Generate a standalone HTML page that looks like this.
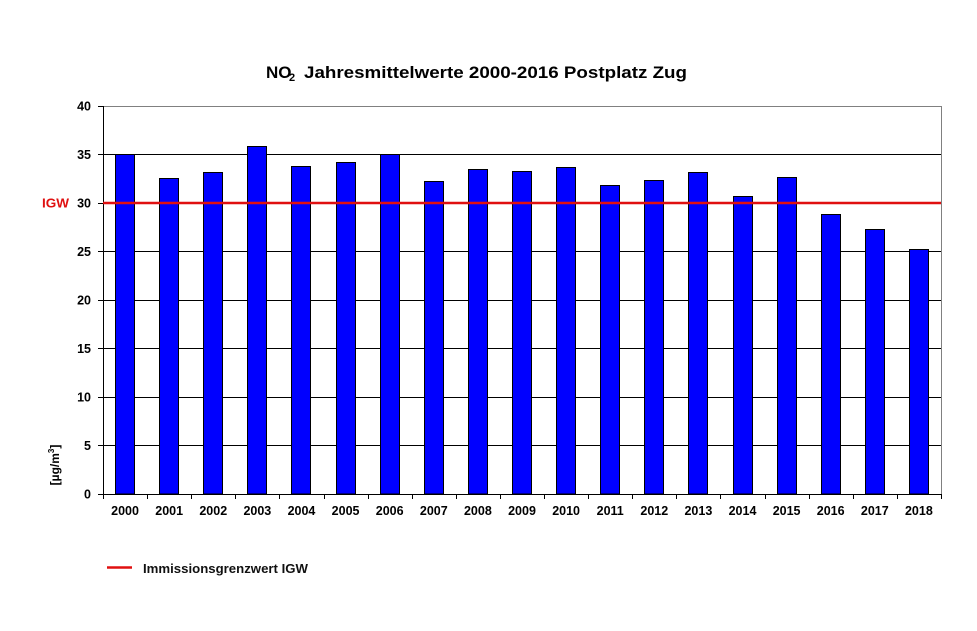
<!DOCTYPE html>
<html><head><meta charset="utf-8"><style>
html,body{margin:0;padding:0;background:#fff;}
svg{display:block;font-family:"Liberation Sans",Arial,sans-serif;font-weight:bold;}
</style></head><body>
<svg width="977" height="631" viewBox="0 0 977 631" xmlns="http://www.w3.org/2000/svg">
<rect width="977" height="631" fill="#fff"/>
<!-- title -->
<text x="266" y="78" font-size="17" fill="#000">NO</text>
<text x="289" y="81" font-size="11" fill="#000">2</text>
<text x="304" y="78" font-size="17" fill="#000" textLength="383" lengthAdjust="spacingAndGlyphs">Jahresmittelwerte 2000-2016 Postplatz Zug</text>
<!-- plot frame -->
<line x1="103" y1="106.5" x2="941.5" y2="106.5" stroke="#808080" stroke-width="1"/>
<line x1="941.5" y1="106" x2="941.5" y2="494" stroke="#808080" stroke-width="1"/>
<!-- gridlines -->
<g stroke="#000" stroke-width="1">
<line x1="103" y1="154.5" x2="941" y2="154.5"/>
<line x1="103" y1="251.5" x2="941" y2="251.5"/>
<line x1="103" y1="300.5" x2="941" y2="300.5"/>
<line x1="103" y1="348.5" x2="941" y2="348.5"/>
<line x1="103" y1="397.5" x2="941" y2="397.5"/>
<line x1="103" y1="445.5" x2="941" y2="445.5"/>
</g>
<!-- bars -->
<g fill="#0000ff" stroke="#000" stroke-width="1">
<rect x="115.5" y="154.5" width="19" height="339.5"/>
<rect x="159.5" y="178.5" width="19" height="315.5"/>
<rect x="203.5" y="172.5" width="19" height="321.5"/>
<rect x="247.5" y="146.5" width="19" height="347.5"/>
<rect x="291.5" y="166.5" width="19" height="327.5"/>
<rect x="336.5" y="162.5" width="19" height="331.5"/>
<rect x="380.5" y="154.5" width="19" height="339.5"/>
<rect x="424.5" y="181.5" width="19" height="312.5"/>
<rect x="468.5" y="169.5" width="19" height="324.5"/>
<rect x="512.5" y="171.5" width="19" height="322.5"/>
<rect x="556.5" y="167.5" width="19" height="326.5"/>
<rect x="600.5" y="185.5" width="19" height="308.5"/>
<rect x="644.5" y="180.5" width="19" height="313.5"/>
<rect x="688.5" y="172.5" width="19" height="321.5"/>
<rect x="733.5" y="196.5" width="19" height="297.5"/>
<rect x="777.5" y="177.5" width="19" height="316.5"/>
<rect x="821.5" y="214.5" width="19" height="279.5"/>
<rect x="865.5" y="229.5" width="19" height="264.5"/>
<rect x="909.5" y="249.5" width="19" height="244.5"/>
</g>
<!-- axes -->
<line x1="103.5" y1="106" x2="103.5" y2="494" stroke="#000" stroke-width="1"/>
<line x1="103" y1="494.5" x2="942" y2="494.5" stroke="#000" stroke-width="1"/>
<!-- y ticks -->
<g stroke="#000" stroke-width="1">
<line x1="98" y1="106.5" x2="103" y2="106.5"/>
<line x1="98" y1="154.5" x2="103" y2="154.5"/>
<line x1="98" y1="203.5" x2="103" y2="203.5"/>
<line x1="98" y1="251.5" x2="103" y2="251.5"/>
<line x1="98" y1="300.5" x2="103" y2="300.5"/>
<line x1="98" y1="348.5" x2="103" y2="348.5"/>
<line x1="98" y1="397.5" x2="103" y2="397.5"/>
<line x1="98" y1="445.5" x2="103" y2="445.5"/>
<line x1="98" y1="494.5" x2="103" y2="494.5"/>
</g>
<!-- x ticks -->
<g stroke="#000" stroke-width="1">
<line x1="103.5" y1="494" x2="103.5" y2="499"/>
<line x1="147.5" y1="494" x2="147.5" y2="499"/>
<line x1="191.5" y1="494" x2="191.5" y2="499"/>
<line x1="235.5" y1="494" x2="235.5" y2="499"/>
<line x1="279.5" y1="494" x2="279.5" y2="499"/>
<line x1="324.5" y1="494" x2="324.5" y2="499"/>
<line x1="368.5" y1="494" x2="368.5" y2="499"/>
<line x1="412.5" y1="494" x2="412.5" y2="499"/>
<line x1="456.5" y1="494" x2="456.5" y2="499"/>
<line x1="500.5" y1="494" x2="500.5" y2="499"/>
<line x1="544.5" y1="494" x2="544.5" y2="499"/>
<line x1="588.5" y1="494" x2="588.5" y2="499"/>
<line x1="632.5" y1="494" x2="632.5" y2="499"/>
<line x1="676.5" y1="494" x2="676.5" y2="499"/>
<line x1="720.5" y1="494" x2="720.5" y2="499"/>
<line x1="765.5" y1="494" x2="765.5" y2="499"/>
<line x1="809.5" y1="494" x2="809.5" y2="499"/>
<line x1="853.5" y1="494" x2="853.5" y2="499"/>
<line x1="897.5" y1="494" x2="897.5" y2="499"/>
<line x1="941.5" y1="494" x2="941.5" y2="499"/>
</g>
<!-- IGW line -->
<line x1="103" y1="203" x2="941" y2="203" stroke="#e01010" stroke-width="2.5"/>
<!-- y labels -->
<g font-size="12.5" fill="#000" text-anchor="end">
<text x="91" y="110.5">40</text>
<text x="91" y="159">35</text>
<text x="91" y="207.5">30</text>
<text x="91" y="256">25</text>
<text x="91" y="304.5">20</text>
<text x="91" y="353">15</text>
<text x="91" y="401.5">10</text>
<text x="91" y="450">5</text>
<text x="91" y="498.5">0</text>
</g>
<text x="42" y="207.5" font-size="12.5" fill="#e01010" textLength="27" lengthAdjust="spacingAndGlyphs">IGW</text>
<!-- axis title -->
<text transform="translate(59,465) rotate(-90)" font-size="12" fill="#000" text-anchor="middle">[µg/m<tspan font-size="8" dy="-5">3</tspan><tspan dy="5">]</tspan></text>
<!-- x labels -->
<g font-size="12.5" fill="#000" text-anchor="middle">
<text x="125.05" y="515">2000</text>
<text x="169.16" y="515">2001</text>
<text x="213.26" y="515">2002</text>
<text x="257.37" y="515">2003</text>
<text x="301.47" y="515">2004</text>
<text x="345.58" y="515">2005</text>
<text x="389.68" y="515">2006</text>
<text x="433.79" y="515">2007</text>
<text x="477.89" y="515">2008</text>
<text x="522" y="515">2009</text>
<text x="566.1" y="515">2010</text>
<text x="610.2" y="515">2011</text>
<text x="654.3" y="515">2012</text>
<text x="698.4" y="515">2013</text>
<text x="742.5" y="515">2014</text>
<text x="786.6" y="515">2015</text>
<text x="830.7" y="515">2016</text>
<text x="874.8" y="515">2017</text>
<text x="918.9" y="515">2018</text>
</g>
<!-- legend -->
<line x1="107" y1="567.5" x2="132" y2="567.5" stroke="#e01010" stroke-width="2.5"/>
<text x="143" y="573" font-size="12.5" fill="#111" textLength="165" lengthAdjust="spacingAndGlyphs">Immissionsgrenzwert IGW</text>
</svg>
</body></html>
